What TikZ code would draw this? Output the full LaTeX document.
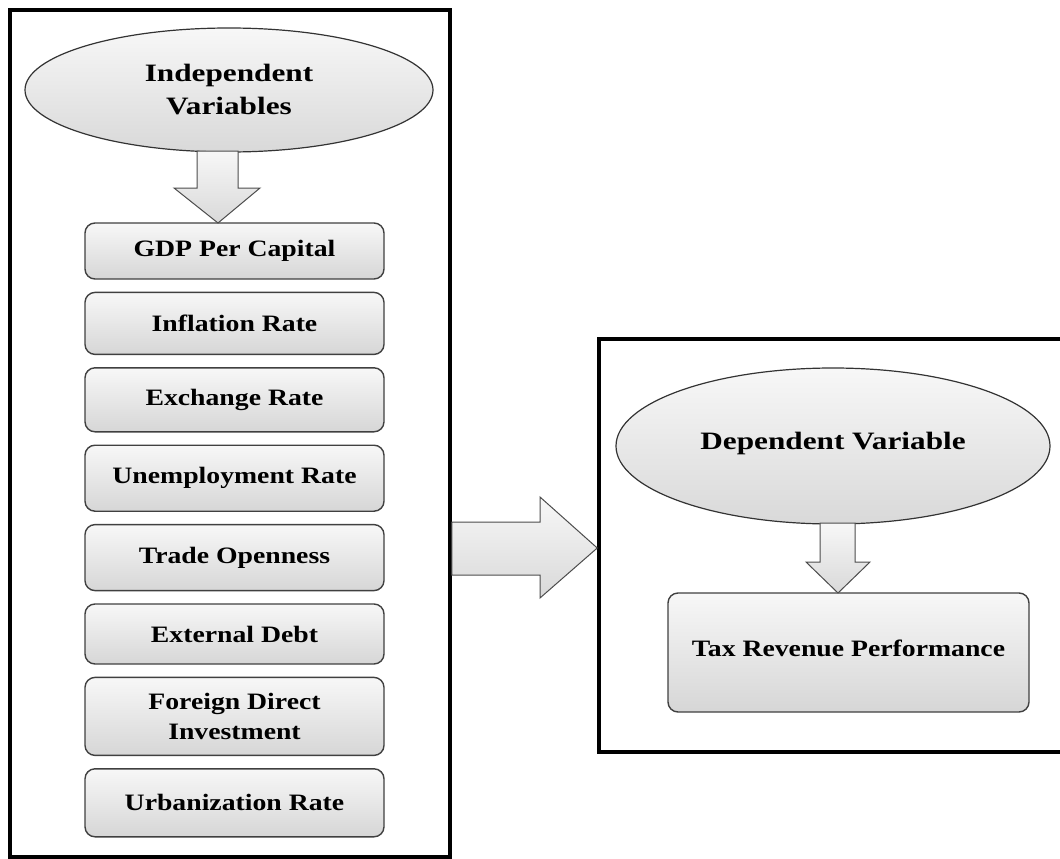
\documentclass[tikz,border=0pt]{standalone}
\usepackage{fontspec}
\setmainfont{Liberation Serif}
\newfontfamily\boxfont{Liberation Serif}[FakeStretch=1.18]
\newfontfamily\ovalfont{Liberation Serif}[FakeStretch=1.25]
\usetikzlibrary{shapes, positioning, calc}
\tikzset{
    frame/.style={rectangle, draw, line width=3.5pt, inner sep=0pt},
    oval/.style={ellipse, draw=black!80, line width=1.2pt, top color=gray!6, bottom color=gray!30, align=center, inner sep=0pt, font=\ovalfont\bfseries\fontsize{25}{33}\selectfont},
    varbox/.style={rectangle, draw=black!75, line width=1.4pt, rounded corners=10pt, top color=gray!6, bottom color=gray!32, align=center, minimum width=299pt, font=\boxfont\bfseries\fontsize{23.5}{30}\selectfont},
    blockarrow/.style={draw=black!70, line width=1pt, top color=gray!6, bottom color=gray!30}
}

\begin{document}
\begin{tikzpicture}[x=1pt, y=-1pt, node distance=12pt]
    \useasboundingbox (0,0) rectangle (1060,859);

    % Frames
    \node (indepframe) [frame, minimum width=440pt, minimum height=847pt] at (230,433.5) {};
    \node (depframe) [frame, minimum width=470pt, minimum height=413pt] at (834,545.5) {};

    % Independent side
    \node (indep) [oval, minimum width=408pt, minimum height=124pt] at (229,90) {Independent\\Variables};
    \node (gdp) [varbox, minimum height=56pt] at (234.5,251) {GDP Per Capital};
    \node (inflation) [varbox, minimum height=62pt, below=of gdp] {Inflation Rate};
    \node (exchange) [varbox, minimum height=64pt, below=of inflation] {Exchange Rate};
    \node (unemployment) [varbox, minimum height=66pt, below=of exchange] {Unemployment Rate};
    \node (trade) [varbox, minimum height=66pt, below=of unemployment] {Trade Openness};
    \node (debt) [varbox, minimum height=60pt, below=of trade] {External Debt};
    \node (fdi) [varbox, minimum height=78pt, below=of debt] {Foreign Direct\\Investment};
    \node (urban) [varbox, minimum height=68pt, below=of fdi] {Urbanization Rate};

    % Dependent side
    \node (dep) [oval, minimum width=434pt, minimum height=156pt] at (833,446) {\raisebox{10pt}{Dependent Variable}};
    \node (tax) [varbox, minimum width=361pt, minimum height=119pt] at (848.5,652.5) {\raisebox{9pt}{Tax Revenue Performance}};

    % Block arrows
    \draw [blockarrow] (197,151) -- (238,151) -- (238,188) -- (260,188) -- (218,223) -- (174,188) -- (197,188) -- cycle;
    \draw [blockarrow] (820,523) -- (855,523) -- (855,562) -- (870,562) -- (838,593) -- (806,562) -- (820,562) -- cycle;
    \draw [blockarrow] (451.75,522) -- (540,522) -- (540,497) -- (597.25,548) -- (540,598) -- (540,575) -- (451.75,575) -- cycle;

\end{tikzpicture}
\end{document}
